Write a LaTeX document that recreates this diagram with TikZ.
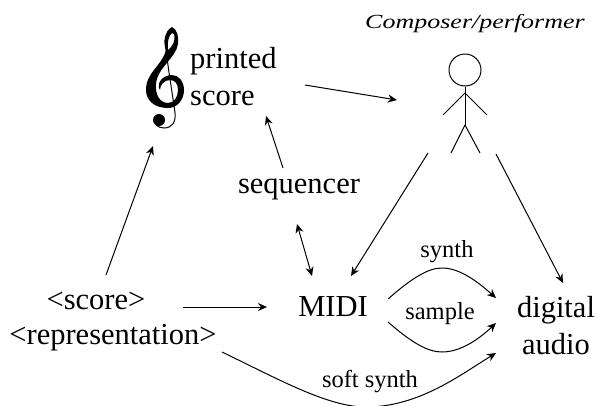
\documentclass[tikz,border=0pt]{standalone}
\usepackage{fontspec}
\setmainfont{Liberation Serif}
\newfontfamily\composerfont[FakeStretch=1.3]{Liberation Serif}
\usetikzlibrary{arrows.meta}
\tikzset{
  big/.style={font=\fontsize{30.5}{37}\selectfont, inner sep=0pt, align=center},
  small/.style={font=\fontsize{24.5}{28}\selectfont, inner sep=0pt},
  arr/.style={-{Stealth[length=9pt,width=8pt]}, line width=1pt},
  limb/.style={line width=1pt},
}
\begin{document}
\begin{tikzpicture}[x=1pt, y=-1pt]
  \useasboundingbox (0, 0) rectangle (597, 405);
  % clef
  \fill[even odd rule] (172, 27) .. controls (177, 29) and (179, 37) .. (178, 44)
    .. controls (176, 58) and (157, 68) .. (156, 84)
    .. controls (155, 95) and (160, 103) .. (168, 103)
    .. controls (174, 103) and (178, 97) .. (178, 90)
    .. controls (178, 84) and (175, 80) .. (170, 80)
    .. controls (164, 80) and (160, 85) .. (160, 90)
    .. controls (156, 84) and (162, 75) .. (172, 75)
    .. controls (179, 75) and (184, 82) .. (184, 90)
    .. controls (184, 100) and (177, 108) .. (168, 108)
    .. controls (155, 108) and (146, 101) .. (146, 90)
    .. controls (146, 72) and (162, 66) .. (166, 50)
    .. controls (163, 44) and (164, 31) .. (172, 27) -- cycle
    (172, 33) .. controls (169, 35) and (167, 42) .. (168, 50)
    .. controls (172, 47) and (176, 41) .. (174, 34) -- cycle;
  \draw[limb] (165, 40) .. controls (168, 70) and (172, 90) .. (175, 113)
    .. controls (176, 122) and (172, 128) .. (164, 128) .. controls (161, 128) and (158, 127) .. (156, 125);
  \fill (159, 120) circle (6);
  % texts
  \node[big, anchor=west] (printed) at (190, 61) {printed};
  \node[big, anchor=west] (score) at (190, 98) {score};
  \node[big] (sequencer) at (299, 189) {sequencer};
  \node[big] (midi) at (333, 307) {MIDI};
  \node[big] (digital) at (556, 326) {digital\\audio};
  \node[big] (scoretag) at (96, 301) {<score>};
  \node[big] (repr) at (113, 338) {<representation>};
  \node[small] (synth) at (447, 252) {synth};
  \node[small] (sample) at (440, 314) {sample};
  \node[small] (softsynth) at (370, 382) {soft synth};
  \node[font=\fontsize{20}{24}\selectfont\composerfont\itshape, inner sep=0pt] (composer) at (475, 24) {Composer/performer};
  % person
  \node[draw, circle, line width=1pt, minimum size=32pt, inner sep=0pt] (head) at (465, 70) {};
  \coordinate (hip) at (465, 125);
  \coordinate (shoulder) at (465, 93);
  \draw[limb] (head) -- (hip);
  \draw[limb] (shoulder) -- (443, 115);
  \draw[limb] (shoulder) -- (487, 115);
  \draw[limb] (hip) -- (451, 153);
  \draw[limb] (hip) -- (480, 153);
  % arrow ends
  \coordinate (a1) at (305, 85);
  \coordinate (a2) at (397, 100);
  \coordinate (b1) at (283, 168);
  \coordinate (b2) at (266, 116);
  \coordinate (c1) at (297, 224);
  \coordinate (c2) at (312, 276);
  \coordinate (d1) at (428, 153);
  \coordinate (d2) at (351, 276);
  \coordinate (e1) at (496, 154);
  \coordinate (e2) at (563, 283);
  \coordinate (f1) at (106, 275);
  \coordinate (f2) at (153, 146);
  \coordinate (g1) at (183, 307);
  \coordinate (g2) at (267, 307);
  \coordinate (h1) at (388, 299);
  \coordinate (h2) at (496, 298);
  \coordinate (i1) at (388, 322);
  \coordinate (i2) at (496, 323);
  \coordinate (j1) at (222, 352);
  \coordinate (j2) at (496, 353);
  \draw[arr] (a1) -- (a2);
  \draw[arr] (b1) -- (b2);
  \draw[arr, {Stealth[length=9pt,width=8pt]}-{Stealth[length=9pt,width=8pt]}] (c1) -- (c2);
  \draw[arr] (d1) -- (d2);
  \draw[arr] (e1) -- (e2);
  \draw[arr] (f1) -- (f2);
  \draw[arr] (g1) -- (g2);
  \draw[arr] (h1) .. controls (412, 278) and (428, 268) .. (442, 268) .. controls (460, 268) and (478, 282) .. (h2);
  \draw[arr] (i1) .. controls (412, 343) and (428, 352) .. (442, 352) .. controls (460, 352) and (478, 340) .. (i2);
  \draw[arr] (j1) .. controls (280, 380) and (330, 408) .. (368, 407) .. controls (420, 406) and (460, 375) .. (j2);
\end{tikzpicture}
\end{document}
